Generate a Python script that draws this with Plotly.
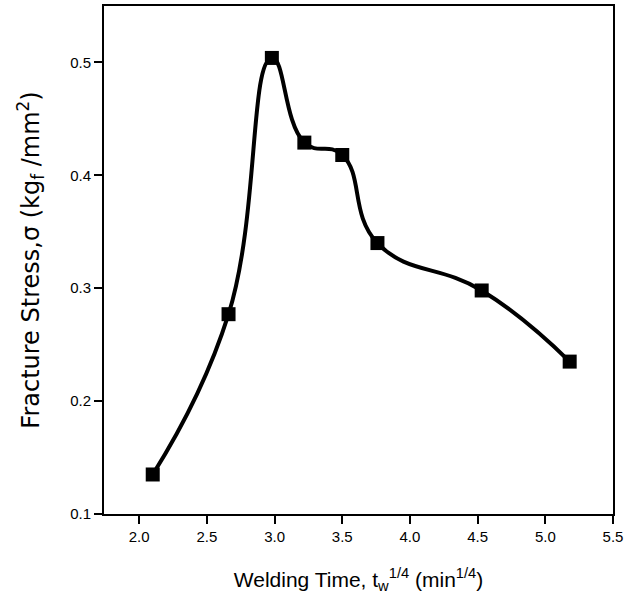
import plotly.graph_objects as go

welding_time = [2.10, 2.66, 2.98, 3.22, 3.50, 3.76, 4.53, 5.18]
fracture_stress = [0.135, 0.277, 0.504, 0.429, 0.418, 0.340, 0.298, 0.235]

x_ticks = [2.0, 2.5, 3.0, 3.5, 4.0, 4.5, 5.0, 5.5]
y_ticks = [0.1, 0.2, 0.3, 0.4, 0.5]

fig = go.Figure()
fig.add_trace(go.Scatter(
    x=welding_time, y=fracture_stress,
    mode="lines+markers",
    line=dict(color="black", width=4, shape="spline", smoothing=1.3),
    marker=dict(symbol="square", size=14, color="black"),
    showlegend=False,
))

font_family = "Liberation Sans, Arial, sans-serif"
fig.update_layout(
    width=624, height=608,
    margin=dict(l=104, r=11, t=6, b=94),
    paper_bgcolor="white", plot_bgcolor="white",
    font=dict(family=font_family, color="black"),
)
fig.update_xaxes(
    range=[1.74, 5.5],
    tickvals=x_ticks, ticktext=[f"{v:.1f}" for v in x_ticks],
    ticks="outside", ticklen=8, tickwidth=2, tickcolor="black",
    showline=True, linewidth=2, linecolor="black", mirror=True,
    showgrid=False, zeroline=False,
    tickfont=dict(size=15),
    ticklabeloverflow="allow",
    automargin=False,
    title=dict(text="Welding Time, t<sub>w</sub><sup>1/4</sup> (min<sup>1/4</sup>)",
               font=dict(size=21), standoff=28),
)
fig.update_yaxes(
    range=[0.1, 0.55],
    tickvals=y_ticks, ticktext=[f"{v:.1f}" for v in y_ticks],
    ticks="outside", ticklen=8, tickwidth=2, tickcolor="black",
    showline=True, linewidth=2, linecolor="black", mirror=True,
    showgrid=False, zeroline=False,
    tickfont=dict(size=15),
    automargin=False,
    title=dict(text="Fracture Stress,σ (kg<sub>f</sub> /mm<sup>2</sup>)",
               font=dict(size=24, family="DejaVu Sans, sans-serif"), standoff=24),
)

fig.write_html(
    "out.html",
    config={"displayModeBar": False},
    post_script="document.body.style.margin='0';document.body.style.overflow='hidden';",
)
